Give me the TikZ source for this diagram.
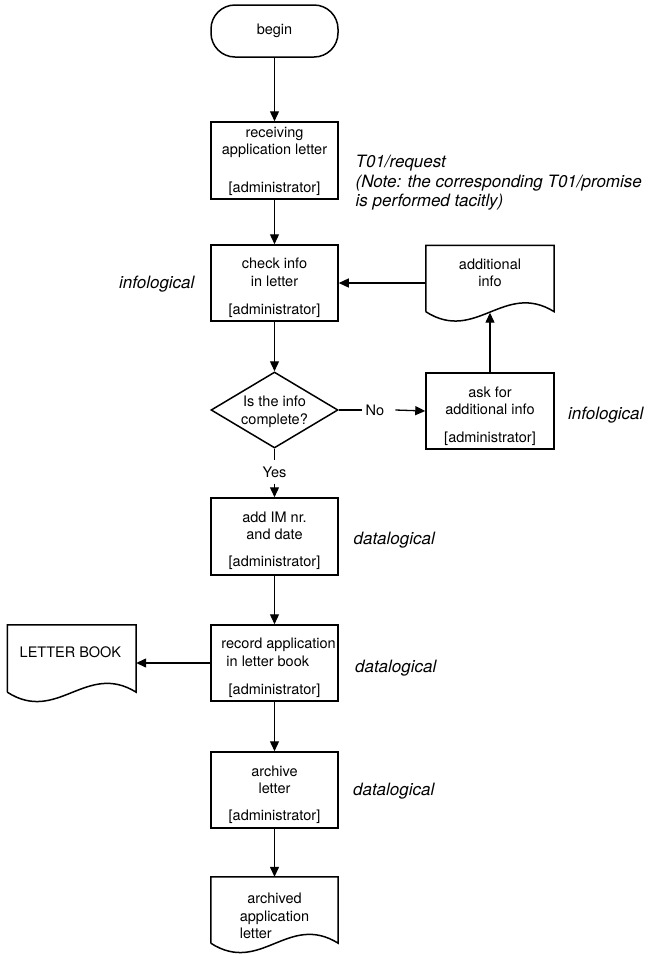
\documentclass[tikz,border=0pt]{standalone}
\usepackage{fontspec}
\setmainfont{TeX Gyre Heros}
\usetikzlibrary{shapes.geometric,arrows.meta}

% document symbol: straight top and sides, wavy bottom edge
\newcommand{\docoutline}[1]{%
  \draw[outline] (#1.south west) -- (#1.north west) -- (#1.north east) -- (#1.south east)
    .. controls +(-50,-31) and +(50,32) .. (#1.south west);}

\begin{document}
\begin{tikzpicture}[x=1pt,y=-1pt,
  outline/.style={draw=black,line width=1.5pt},
  procbox/.style={outline,rectangle,minimum width=127pt,minimum height=76pt,inner sep=0pt},
  docbox/.style={rectangle,minimum width=128pt,minimum height=66pt,inner sep=0pt},
  boxtext/.style={font=\fontsize{14.5}{17.5}\selectfont,align=center,inner sep=0pt},
  note/.style={font=\itshape\fontsize{17}{19.5}\selectfont,inner sep=0pt},
  flow/.style={line width=1.3pt,-{Triangle[length=10pt,width=9pt]}},
  plain/.style={line width=1.3pt}]
\useasboundingbox (0,0) rectangle (653,954);
\fill[white] (0,0) rectangle (653,954);

% start terminal
\node[procbox,rounded corners=24pt,minimum height=52pt,font=\fontsize{14.5}{17.5}\selectfont] (begin) at (274.5,31) {begin};

% receiving the letter
\node[procbox,minimum height=77pt] (recv) at (274.5,160.5) {};
\node[boxtext,anchor=north] (recv-t) at ([yshift=-5.5]recv.north) {receiving\\application letter};
\node[boxtext] (recv-r) at ([yshift=11.5]recv.south) {[administrator]};

% checking the info
\node[procbox] (check) at (274.5,283) {};
\node[boxtext,anchor=north] (check-t) at ([yshift=-13.5]check.north) {check info\\in letter};
\node[boxtext] (check-r) at ([yshift=11]check.south) {[administrator]};

% decision
\node[draw=black,line width=1.5pt,diamond,minimum width=127pt,minimum height=76pt,inner sep=0pt] (dia) at (274.5,410) {};
\node[boxtext] (dia-t) at (274.5,412) {Is the info\\complete?};

% additional info document
\node[docbox] (addinfo) at (490,278.5) {};
\docoutline{addinfo}
\node[boxtext,anchor=north] (addinfo-t) at ([yshift=-13]addinfo.north) {additional\\info};

% asking for more info
\node[procbox,minimum width=128pt] (ask) at (490,411) {};
\node[boxtext,anchor=north] (ask-t) at ([yshift=-14]ask.north) {ask for\\additional info};
\node[boxtext] (ask-r) at ([yshift=11]ask.south) {[administrator]};

% branch labels
\node[boxtext] (no) at (375,410) {No};
\node[boxtext] (yes) at (274.5,472) {Yes};

% registration number and date
\node[procbox,minimum height=77pt] (addim) at (274.5,536.5) {};
\node[boxtext,anchor=north] (addim-t) at ([yshift=-14]addim.north) {add IM nr.\\and date};
\node[boxtext] (addim-r) at ([yshift=13]addim.south) {[administrator]};

% recording in the letter book
\node[procbox] (record) at (274.5,663) {};
\node[boxtext,anchor=north west,align=left] (record-t) at ([xshift=11,yshift=-13.5]record.north west) {record application\\\hspace*{5pt}in letter book};
\node[boxtext] (record-r) at ([yshift=11]record.south) {[administrator]};

% letter book document
\node[docbox,minimum width=128.5pt,minimum height=67pt] (book) at (71.75,658.5) {};
\docoutline{book}
\node[boxtext,anchor=west] (book-t) at ([xshift=12.2,yshift=-27]book.north west) {LETTER BOOK};

% archiving
\node[procbox] (archive) at (274.5,790) {};
\node[boxtext,anchor=north] (archive-t) at ([yshift=-14]archive.north) {archive\\letter};
\node[boxtext] (archive-r) at ([yshift=12]archive.south) {[administrator]};

% archived letter document
\node[docbox,minimum width=127pt,minimum height=66pt] (archived) at (274.5,910) {};
\docoutline{archived}
\node[boxtext,anchor=north] (archived-t) at ([yshift=-16]archived.north) {archived\\application\\\makebox[0pt][l]{letter}\phantom{application}};

% side notes
\node[note,anchor=north west,align=left] (t01) at (355.5,155) {T01/request\\(Note: the corresponding T01/promise\\is performed tacitly)};
\node[note,anchor=west] (info-l) at (119,284) {infological};
\node[note,anchor=west] (info-r) at (568,415) {infological};
\node[note,anchor=west] (data-1) at (353.5,540) {datalogical};
\node[note,anchor=west] (data-2) at (355,668) {datalogical};
\node[note,anchor=west] (data-3) at (353,791) {datalogical};

% connectors
\draw[flow] (begin.south) -- (recv.north);
\draw[flow] (recv.south) -- (check.north);
\draw[flow] (check.south) -- (dia.north);
\draw[plain] (dia.east) -- ([xshift=-4]no.west);
\draw[flow] ([xshift=11]no.east) -- (ask.west);
\draw[flow] (ask.north) -- ([yshift=-1]addinfo.south);
\draw[flow] (addinfo.west |- check.east) -- (check.east);
\draw[plain] (dia.south) -- ([yshift=6]yes.north);
\draw[flow] ([yshift=-6]yes.south) -- (addim.north);
\draw[flow] (addim.south) -- (record.north);
\draw[flow] (record.west) -- (record.west -| book.east);
\draw[flow] (record.south) -- (archive.north);
\draw[flow] (archive.south) -- (archived.north);
\end{tikzpicture}
\end{document}
